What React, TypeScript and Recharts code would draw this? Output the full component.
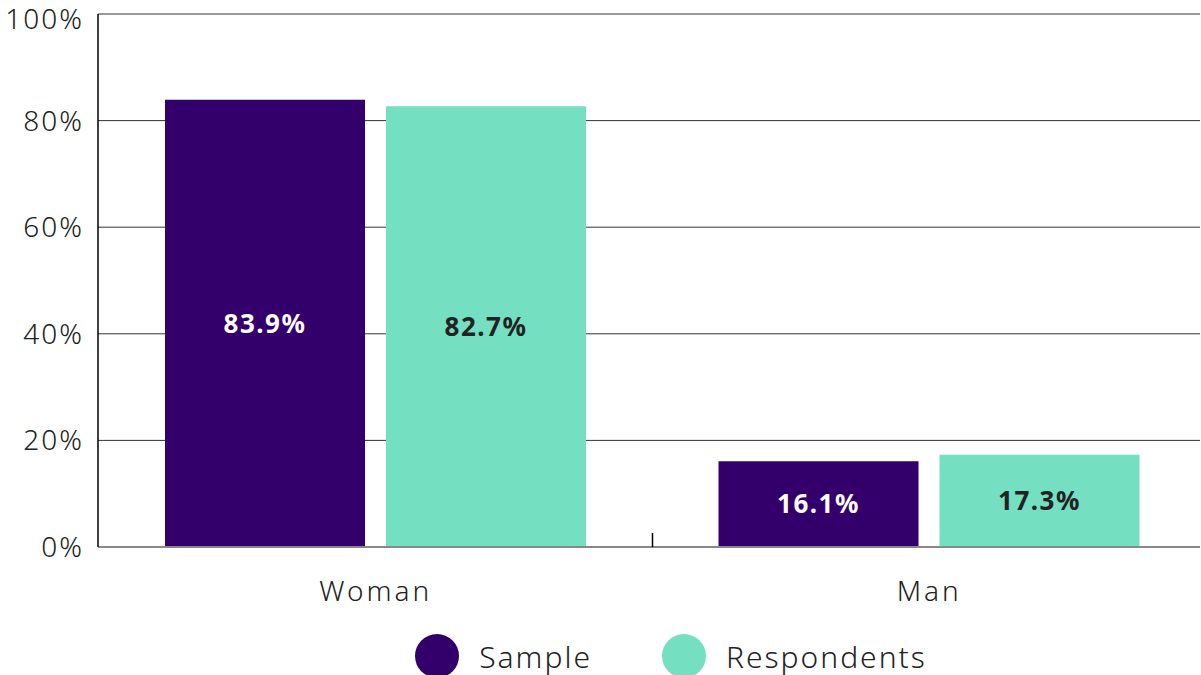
import { BarChart, Bar, XAxis, YAxis, CartesianGrid, Legend, LabelList } from 'recharts'

const categories = ['Woman', 'Man']
const sampleValues = [83.9, 16.1]
const respondentValues = [82.7, 17.3]
const yTicks = [0, 20, 40, 60, 80, 100]

const SERIES = [
  { key: 'Sample', color: '#33006B', label: '#FFFFFF' },
  { key: 'Respondents', color: '#74DFC1', label: '#222222' },
]

const FONT = '"Noto Sans", sans-serif'

const data = categories.map((name, i) => ({
  name,
  Sample: sampleValues[i],
  Respondents: respondentValues[i],
}))

function XTick(props: any) {
  const { x, y, payload, index } = props
  return (
    <g>
      {index === 0 && (
        <line x1={x + payload.offset} x2={x + payload.offset} y1={y - 22} y2={y - 8} stroke="#000" strokeWidth={1.5} />
      )}
      <text x={x} y={y + 46} textAnchor="middle" fontSize={28} fill="#222" fontFamily={FONT} fontWeight={300} letterSpacing={3}>
        {payload.value}
      </text>
    </g>
  )
}

function LegendContent() {
  return (
    <div style={{ display: 'flex', justifyContent: 'center', alignItems: 'center', gap: 70, height: 58, paddingTop: 10, paddingLeft: 142, fontFamily: FONT }}>
      {SERIES.map(s => (
        <div key={s.key} style={{ display: 'flex', alignItems: 'center', gap: 20 }}>
          <span style={{ width: 44, height: 44, borderRadius: '50%', background: s.color, display: 'inline-block' }} />
          <span style={{ fontSize: 30, color: '#222', fontWeight: 300, letterSpacing: 2 }}>{s.key}</span>
        </div>
      ))}
    </div>
  )
}

export default function App() {
  return (
    <div style={{ position: 'absolute', top: 0, left: 0, background: '#fff' }}>
      <BarChart
        width={1201}
        height={675}
        data={data}
        margin={{ top: 14, right: 1, left: 0, bottom: 0 }}
        barSize={200}
        barGap={21}
      >
        <CartesianGrid vertical={false} stroke="#333" strokeWidth={1} />
        <XAxis
          dataKey="name"
          height={70}
          padding={{ left: 1, right: -6 }}
          axisLine={{ stroke: '#888', strokeWidth: 2 }}
          tickLine={false}
          tick={<XTick />}
        />
        <YAxis
          width={98}
          domain={[0, 100]}
          ticks={yTicks}
          tickFormatter={(v: number) => `${v}%`}
          axisLine={{ stroke: '#000', strokeWidth: 1.5 }}
          tickLine={false}
          tickMargin={8}
          tick={{ fontSize: 28, fill: '#222', fontFamily: FONT, fontWeight: 300, letterSpacing: 2 }}
        />
        <Legend verticalAlign="bottom" height={58} content={<LegendContent />} />
        {SERIES.map(s => (
          <Bar key={s.key} dataKey={s.key} fill={s.color} isAnimationActive={false}>
            <LabelList
              dataKey={s.key}
              position="center"
              formatter={(v: any) => `${Number(v).toFixed(1)}%`}
              style={{ fontSize: 26, fontWeight: 700, fill: s.label, fontFamily: FONT, letterSpacing: 1.5 }}
            />
          </Bar>
        ))}
      </BarChart>
    </div>
  )
}
